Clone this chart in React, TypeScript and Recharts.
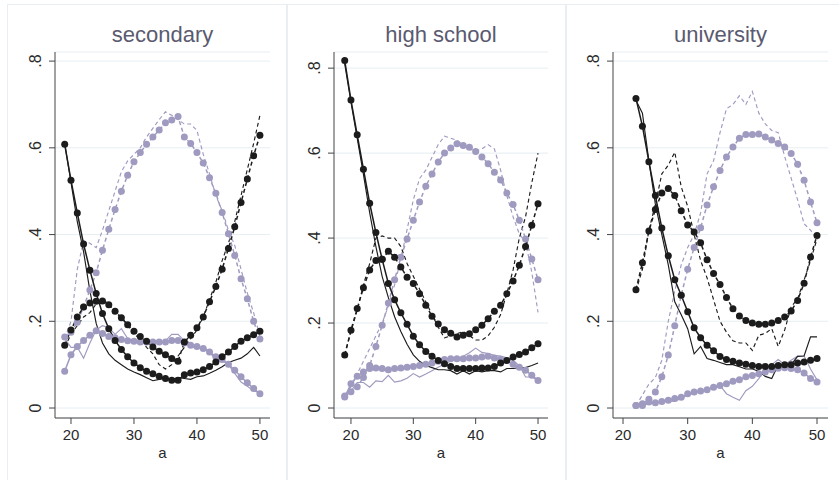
import React from 'react';
import { LineChart, Line, XAxis, YAxis, CartesianGrid } from 'recharts';

const FONT = '"Liberation Sans", Arial, Helvetica, sans-serif';
const BLACK = '#1c1c1c';
const PURPLE = '#9f9ac0';
const GRID = '#e6eef2';
const AXIS = '#444';

// ages
const ages19 = [19, 20, 21, 22, 23, 24, 25, 26, 27, 28, 29, 30, 31, 32, 33, 34, 35, 36, 37, 38, 39, 40, 41, 42, 43, 44, 45, 46, 47, 48, 49, 50];
const ages22 = [22, 23, 24, 25, 26, 27, 28, 29, 30, 31, 32, 33, 34, 35, 36, 37, 38, 39, 40, 41, 42, 43, 44, 45, 46, 47, 48, 49, 50];

const xTicks = [20, 30, 40, 50];
const yTicks = [0, 0.2, 0.4, 0.6, 0.8];
const titles = ['secondary', 'high school', 'university'];

// secondary
const secFitSolidBlack = [0.608, 0.525, 0.45, 0.378, 0.318, 0.264, 0.218, 0.183, 0.156, 0.135, 0.118, 0.104, 0.093, 0.085, 0.079, 0.073, 0.068, 0.064, 0.064, 0.077, 0.081, 0.083, 0.088, 0.096, 0.106, 0.118, 0.129, 0.142, 0.154, 0.162, 0.169, 0.177];
const secRawSolidBlack = [0.61, 0.52, 0.43, 0.36, 0.27, 0.195, 0.15, 0.125, 0.11, 0.1, 0.09, 0.083, 0.077, 0.07, 0.063, 0.066, 0.068, 0.066, 0.07, 0.068, 0.066, 0.072, 0.074, 0.08, 0.087, 0.095, 0.105, 0.11, 0.115, 0.125, 0.14, 0.12];
const secFitDashBlack = [0.145, 0.18, 0.21, 0.233, 0.242, 0.246, 0.247, 0.238, 0.223, 0.208, 0.192, 0.177, 0.165, 0.154, 0.141, 0.131, 0.123, 0.114, 0.108, 0.152, 0.168, 0.185, 0.21, 0.245, 0.28, 0.32, 0.368, 0.418, 0.474, 0.528, 0.582, 0.629];
const secRawDashBlack = [0.14, 0.17, 0.19, 0.21, 0.22, 0.24, 0.25, 0.24, 0.22, 0.21, 0.19, 0.17, 0.16, 0.14, 0.125, 0.1, 0.09, 0.1, 0.12, 0.14, 0.16, 0.18, 0.21, 0.25, 0.29, 0.34, 0.38, 0.43, 0.49, 0.55, 0.61, 0.675];
const secFitDashPurple = [0.164, 0.175, 0.198, 0.233, 0.272, 0.312, 0.364, 0.412, 0.458, 0.5, 0.537, 0.568, 0.589, 0.608, 0.625, 0.641, 0.658, 0.664, 0.672, 0.625, 0.61, 0.589, 0.565, 0.531, 0.495, 0.451, 0.402, 0.352, 0.298, 0.252, 0.2, 0.159];
const secRawDashPurple = [0.16, 0.2, 0.32, 0.385, 0.38, 0.37, 0.41, 0.455, 0.5, 0.545, 0.57, 0.585, 0.6, 0.625, 0.645, 0.665, 0.683, 0.675, 0.665, 0.655, 0.655, 0.64, 0.585, 0.54, 0.49, 0.455, 0.41, 0.375, 0.32, 0.265, 0.22, 0.165];
const secFitSolidPurple = [0.085, 0.123, 0.142, 0.156, 0.168, 0.178, 0.172, 0.165, 0.162, 0.158, 0.155, 0.154, 0.152, 0.152, 0.152, 0.152, 0.152, 0.156, 0.156, 0.15, 0.145, 0.142, 0.137, 0.129, 0.118, 0.112, 0.101, 0.087, 0.072, 0.058, 0.045, 0.033];
const secRawSolidPurple = [0.16, 0.14, 0.14, 0.115, 0.15, 0.18, 0.19, 0.185, 0.17, 0.183, 0.16, 0.155, 0.155, 0.15, 0.15, 0.15, 0.155, 0.17, 0.17, 0.155, 0.14, 0.14, 0.14, 0.13, 0.11, 0.11, 0.1, 0.08, 0.06, 0.05, 0.04, 0.035];

// high school
const hsFitSolidBlack = [0.818, 0.725, 0.643, 0.562, 0.482, 0.413, 0.35, 0.293, 0.255, 0.224, 0.197, 0.169, 0.149, 0.133, 0.122, 0.112, 0.104, 0.098, 0.093, 0.093, 0.093, 0.093, 0.094, 0.094, 0.098, 0.106, 0.112, 0.12, 0.126, 0.132, 0.142, 0.151];
const hsRawSolidBlack = [0.81, 0.72, 0.635, 0.55, 0.46, 0.38, 0.31, 0.26, 0.215, 0.18, 0.15, 0.125, 0.11, 0.1, 0.095, 0.09, 0.09, 0.088, 0.08, 0.088, 0.08, 0.088, 0.085, 0.088, 0.088, 0.085, 0.093, 0.093, 0.095, 0.095, 0.1, 0.106];
const hsFitDashBlack = [0.125, 0.183, 0.234, 0.283, 0.325, 0.347, 0.35, 0.369, 0.355, 0.332, 0.308, 0.293, 0.269, 0.242, 0.216, 0.198, 0.184, 0.176, 0.167, 0.171, 0.175, 0.184, 0.195, 0.21, 0.228, 0.242, 0.269, 0.299, 0.336, 0.38, 0.43, 0.481];
const hsRawDashBlack = [0.125, 0.18, 0.23, 0.29, 0.34, 0.4, 0.405, 0.4, 0.4, 0.38, 0.34, 0.31, 0.28, 0.25, 0.22, 0.19, 0.165, 0.17, 0.175, 0.18, 0.17, 0.16, 0.16, 0.17, 0.19, 0.22, 0.27, 0.325, 0.4, 0.45, 0.53, 0.6];
const hsFitDashPurple = [0.028, 0.038, 0.05, 0.072, 0.1, 0.145, 0.195, 0.247, 0.302, 0.355, 0.398, 0.442, 0.485, 0.522, 0.551, 0.579, 0.6, 0.612, 0.622, 0.618, 0.614, 0.604, 0.591, 0.575, 0.555, 0.537, 0.506, 0.479, 0.442, 0.398, 0.351, 0.302];
const hsRawDashPurple = [0.03, 0.05, 0.08, 0.11, 0.14, 0.17, 0.2, 0.24, 0.29, 0.35, 0.42, 0.49, 0.54, 0.56, 0.59, 0.62, 0.64, 0.635, 0.63, 0.62, 0.61, 0.605, 0.61, 0.62, 0.61, 0.56, 0.5, 0.45, 0.41, 0.39, 0.32, 0.225];
const hsFitSolidPurple = [0.026, 0.057, 0.075, 0.085, 0.093, 0.094, 0.093, 0.09, 0.093, 0.094, 0.096, 0.098, 0.1, 0.103, 0.106, 0.11, 0.114, 0.116, 0.116, 0.116, 0.118, 0.118, 0.12, 0.122, 0.118, 0.115, 0.112, 0.103, 0.096, 0.089, 0.077, 0.065];
const hsRawSolidPurple = [0.03, 0.04, 0.06, 0.06, 0.049, 0.064, 0.062, 0.077, 0.061, 0.064, 0.07, 0.081, 0.073, 0.08, 0.088, 0.096, 0.104, 0.11, 0.116, 0.122, 0.13, 0.141, 0.131, 0.128, 0.124, 0.122, 0.118, 0.112, 0.1, 0.073, 0.073, 0.065];

// university
const uniFitSolidBlack = [0.714, 0.65, 0.568, 0.49, 0.415, 0.351, 0.296, 0.26, 0.222, 0.185, 0.162, 0.145, 0.132, 0.119, 0.112, 0.108, 0.104, 0.101, 0.098, 0.096, 0.096, 0.096, 0.098, 0.1, 0.1, 0.104, 0.106, 0.11, 0.114];
const uniRawSolidBlack = [0.71, 0.68, 0.57, 0.47, 0.4, 0.33, 0.245, 0.215, 0.183, 0.125, 0.142, 0.114, 0.11, 0.105, 0.1, 0.1, 0.095, 0.09, 0.09, 0.085, 0.073, 0.068, 0.1, 0.095, 0.1, 0.119, 0.12, 0.164, 0.164];
const uniFitDashBlack = [0.273, 0.335, 0.408, 0.458, 0.496, 0.506, 0.49, 0.455, 0.422, 0.406, 0.381, 0.342, 0.31, 0.285, 0.255, 0.229, 0.212, 0.202, 0.196, 0.193, 0.193, 0.196, 0.202, 0.21, 0.224, 0.248, 0.288, 0.348, 0.398];
const uniRawDashBlack = [0.27, 0.32, 0.41, 0.47, 0.54, 0.56, 0.59, 0.51, 0.465, 0.4, 0.34, 0.3, 0.25, 0.2, 0.175, 0.155, 0.15, 0.15, 0.133, 0.168, 0.172, 0.183, 0.142, 0.18, 0.233, 0.252, 0.295, 0.34, 0.39];
const uniFitDashPurple = [0.006, 0.01, 0.02, 0.037, 0.072, 0.122, 0.19, 0.26, 0.32, 0.37, 0.416, 0.468, 0.51, 0.548, 0.579, 0.602, 0.622, 0.631, 0.631, 0.632, 0.625, 0.618, 0.61, 0.602, 0.587, 0.562, 0.525, 0.475, 0.427];
const uniRawDashPurple = [0.005, 0.03, 0.055, 0.07, 0.11, 0.2, 0.27, 0.33, 0.37, 0.4, 0.45, 0.54, 0.57, 0.635, 0.69, 0.7, 0.72, 0.7, 0.73, 0.68, 0.655, 0.64, 0.635, 0.58, 0.53, 0.48, 0.425, 0.41, 0.39];
const uniFitSolidPurple = [0.006, 0.006, 0.014, 0.012, 0.015, 0.018, 0.022, 0.025, 0.033, 0.037, 0.039, 0.042, 0.048, 0.052, 0.056, 0.062, 0.065, 0.072, 0.075, 0.079, 0.083, 0.088, 0.092, 0.093, 0.091, 0.088, 0.081, 0.068, 0.06];
const uniRawSolidPurple = [0.005, 0.006, 0.01, 0.012, 0.015, 0.015, 0.016, 0.022, 0.03, 0.035, 0.038, 0.042, 0.048, 0.052, 0.033, 0.025, 0.018, 0.04, 0.05, 0.068, 0.09, 0.1, 0.112, 0.1, 0.11, 0.12, 0.12, 0.09, 0.065];

const buildRows = (ages: number[], s: Record<string, number[]>) =>
    ages.map((a, i) => {
        const row: Record<string, number> = { a };
        Object.keys(s).forEach(k => { row[k] = s[k][i]; });
        return row;
    });

const panelData = [
    buildRows(ages19, {
        fitSolidBlack: secFitSolidBlack, rawSolidBlack: secRawSolidBlack,
        fitDashBlack: secFitDashBlack, rawDashBlack: secRawDashBlack,
        fitDashPurple: secFitDashPurple, rawDashPurple: secRawDashPurple,
        fitSolidPurple: secFitSolidPurple, rawSolidPurple: secRawSolidPurple,
    }),
    buildRows(ages19, {
        fitSolidBlack: hsFitSolidBlack, rawSolidBlack: hsRawSolidBlack,
        fitDashBlack: hsFitDashBlack, rawDashBlack: hsRawDashBlack,
        fitDashPurple: hsFitDashPurple, rawDashPurple: hsRawDashPurple,
        fitSolidPurple: hsFitSolidPurple, rawSolidPurple: hsRawSolidPurple,
    }),
    buildRows(ages22, {
        fitSolidBlack: uniFitSolidBlack, rawSolidBlack: uniRawSolidBlack,
        fitDashBlack: uniFitDashBlack, rawDashBlack: uniRawDashBlack,
        fitDashPurple: uniFitDashPurple, rawDashPurple: uniRawDashPurple,
        fitSolidPurple: uniFitSolidPurple, rawSolidPurple: uniRawSolidPurple,
    }),
];

// layout of each panel (page pixels)
const layout = [
    { left: 0, width: 287, yAxisW: 55, right: 17, xDomain: [17.46, 51.6], yDomain: [-0.023, 0.821] },
    { left: 287, width: 278, yAxisW: 47, right: 17, xDomain: [17.28, 51.6], yDomain: [-0.0235, 0.838] },
    { left: 565, width: 274, yAxisW: 48, right: 11, xDomain: [18.45, 51.7], yDomain: [-0.023, 0.821] },
];

// raw lines first, fitted (marker) lines on top
const seriesDefs = [
    { key: 'rawSolidPurple', color: PURPLE, dash: undefined, marker: false },
    { key: 'rawDashPurple', color: PURPLE, dash: '4 3', marker: false },
    { key: 'rawSolidBlack', color: BLACK, dash: undefined, marker: false },
    { key: 'rawDashBlack', color: BLACK, dash: '4 3', marker: false },
    { key: 'fitDashPurple', color: PURPLE, dash: '4 3', marker: true },
    { key: 'fitSolidPurple', color: PURPLE, dash: undefined, marker: true },
    { key: 'fitSolidBlack', color: BLACK, dash: undefined, marker: true },
    { key: 'fitDashBlack', color: BLACK, dash: '4 3', marker: true },
];

const fmtY = (v: number) => (v === 0 ? '0' : '.' + Math.round(v * 10));

const YTick = (props: any) => {
    const { x, y, payload } = props;
    const bx = x - 6;
    return (
        <text x={bx} y={y} transform={`rotate(-90, ${bx}, ${y})`} textAnchor="middle"
            fontSize={16} fill="#2a2a2a" fontFamily={FONT}>
            {fmtY(payload.value)}
        </text>
    );
};

const Panel: React.FC<{ idx: number }> = ({ idx }) => {
    const L = layout[idx];
    return (
        <div style={{ position: 'absolute', left: L.left, top: 0 }}>
            <LineChart width={L.width} height={480} data={panelData[idx]}
                margin={{ top: 52, right: L.right, bottom: 22, left: 0 }}>
                <CartesianGrid vertical={false} stroke={GRID} strokeWidth={1} />
                <XAxis dataKey="a" type="number" domain={L.xDomain} ticks={xTicks} allowDataOverflow
                    height={40} tickSize={6} tickMargin={5} stroke={AXIS}
                    tick={{ fontSize: 15, fill: '#2a2a2a', fontFamily: FONT }}
                    label={{ value: 'a', position: 'insideBottom', offset: 0, fontSize: 15, fill: '#2a2a2a', fontFamily: FONT }} />
                <YAxis type="number" domain={L.yDomain} ticks={yTicks} allowDataOverflow
                    width={L.yAxisW} tickSize={6} tickMargin={2} stroke={AXIS} tick={<YTick />} />
                {seriesDefs.map(s => (
                    <Line key={s.key} dataKey={s.key} type="linear" stroke={s.color}
                        strokeWidth={s.marker ? 1.5 : 1.15} strokeDasharray={s.dash}
                        dot={s.marker ? { r: 3.5, fill: s.color, stroke: 'none', strokeWidth: 0 } : false}
                        activeDot={false} isAnimationActive={false} />
                ))}
            </LineChart>
        </div>
    );
};

const App: React.FC = () => {
    return (
        <div style={{ position: 'absolute', left: 0, top: 0, width: 839, height: 480, background: '#fff', overflow: 'hidden', fontFamily: FONT }}>
            {/* panel frames */}
            <div style={{ position: 'absolute', left: 7, top: 4, width: 279, height: 500, border: '1px solid #e8eef2' }} />
            <div style={{ position: 'absolute', left: 286, top: 4, width: 279, height: 500, border: '1px solid #e8eef2' }} />
            <div style={{ position: 'absolute', left: 565, top: 4, width: 290, height: 500, border: '1px solid #e8eef2' }} />
            {[0, 1, 2].map(i => <Panel key={i} idx={i} />)}
            <svg width={839} height={480} style={{ position: 'absolute', left: 0, top: 0, pointerEvents: 'none' }}>
                {titles.map((t, i) => {
                    const L = layout[i];
                    const cx = L.left + L.yAxisW + (L.width - L.yAxisW - L.right) / 2;
                    return (
                        <text key={t} x={cx} y={42} textAnchor="middle" fontSize={22} fill="#5a5a70" fontFamily={FONT}>{t}</text>
                    );
                })}
            </svg>
        </div>
    );
};

export default App;
